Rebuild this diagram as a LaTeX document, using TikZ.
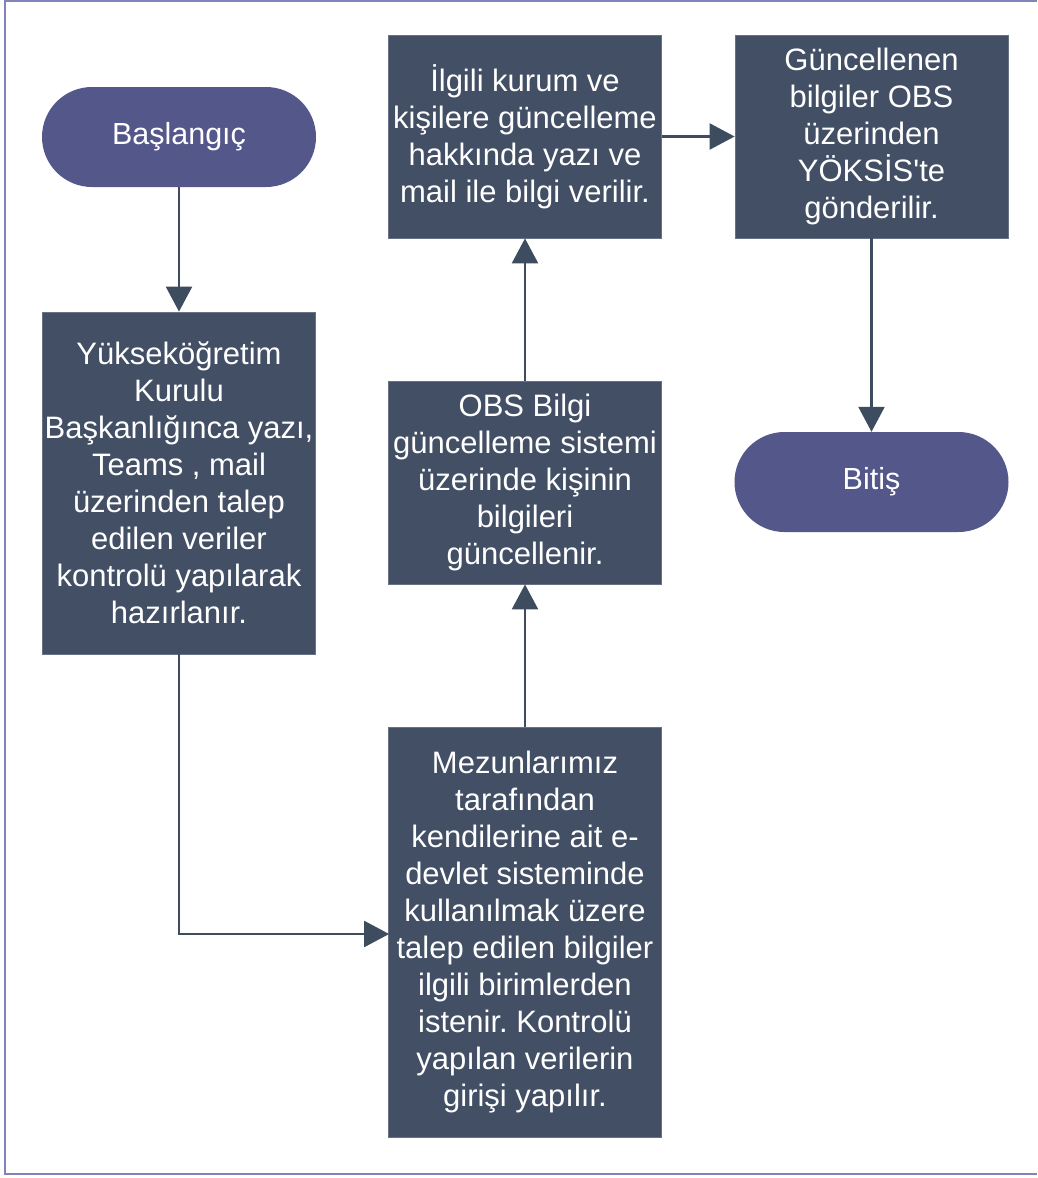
\documentclass[tikz,border=0pt]{standalone}
\usepackage{fontspec}
\setmainfont{Liberation Sans}
\usetikzlibrary{arrows.meta}
\definecolor{boxfill}{RGB}{67,79,101}
\definecolor{termfill}{RGB}{83,87,138}
\definecolor{arrowcol}{RGB}{62,76,96}
\definecolor{framecol}{RGB}{128,132,184}
\frenchspacing
\begin{document}
\begin{tikzpicture}[x=1pt,y=-1pt,
  procbox/.style={draw=boxfill!80!white,line width=0.8pt,fill=boxfill,text=white,inner sep=0pt,
    minimum width=273pt,align=center,font=\fontsize{31}{37}\selectfont},
  termbox/.style={fill=termfill,text=white,inner sep=0pt,rounded corners=50pt,
    minimum width=274pt,minimum height=100pt,font=\fontsize{30.5}{37}\selectfont},
  conn/.style={draw=arrowcol,line width=2.4pt,-{Triangle[width=26pt,length=25pt]}}]
\useasboundingbox (0,0) rectangle (1037,1178);
\draw[framecol,line width=2pt] (1037,1) -- (5,1) -- (5,1174) -- (1037,1174);
\node[termbox] (start) at (179,137) {Başlangıç};
\node[procbox,minimum height=342pt] (yok) at (179,483) {Yükseköğretim\\Kurulu\\Başkanlığınca yazı,\\Teams , mail\\üzerinden talep\\edilen veriler\\kontrolü yapılarak\\hazırlanır.};
\node[procbox,minimum height=410pt] (mez) at (525,932) {Mezunlarımız\\tarafından\\kendilerine ait e-\\devlet sisteminde\\kullanılmak üzere\\talep edilen bilgiler\\ilgili birimlerden\\istenir. Kontrolü\\yapılan verilerin\\girişi yapılır.};
\node[procbox,minimum height=203pt] (obs) at (525,482.5) {OBS Bilgi\\güncelleme sistemi\\üzerinde kişinin\\bilgileri\\güncellenir.};
\node[procbox,minimum height=203pt] (ilg) at (525,136.5) {İlgili kurum ve\\kişilere güncelleme\\hakkında yazı ve\\mail ile bilgi verilir.};
\node[procbox,minimum height=203pt] (gun) at (871.5,136.5) {Güncellenen\\bilgiler OBS\\üzerinden\\YÖKSİS\textquotesingle te\\gönderilir.};
\node[termbox] (end) at (871.5,482) {Bitiş};
\coordinate (bend) at (179,934);
\draw[conn] (start) -- (yok);
\draw[conn,shorten >=-1pt] (yok.south) -- (bend) -- (mez.west |- bend);
\draw[conn] (mez) -- (obs);
\draw[conn] (obs) -- (ilg);
\draw[conn] (ilg) -- (gun);
\draw[conn] (gun) -- (end);
\end{tikzpicture}
\end{document}
